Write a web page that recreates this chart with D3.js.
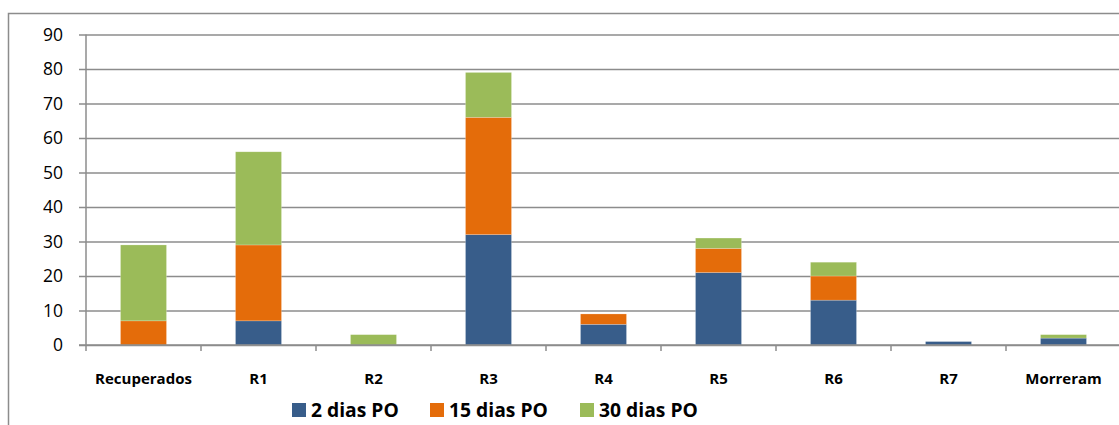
<!DOCTYPE html>
<html>
<head>
<meta charset="utf-8">
<script src="https://cdn.jsdelivr.net/npm/d3@7"></script>
<style>
  html, body { margin: 0; padding: 0; background: #fff; }
  svg { display: block; font-family: "Open Sans", Lato, sans-serif; }
</style>
</head>
<body>
<svg id="chart" width="1119" height="425"></svg>
<script>
// Categories along the x axis
const categories = ["Recuperados", "R1", "R2", "R3", "R4", "R5", "R6", "R7", "Morreram"];

// Series values (stacked in this order, bottom to top)
const dias2  = [0, 7, 0, 32, 6, 21, 13, 1, 2];
const dias15 = [7, 22, 0, 34, 3, 7, 7, 0, 0];
const dias30 = [22, 27, 3, 13, 0, 3, 4, 0, 1];

const seriesNames = ["2 dias PO", "15 dias PO", "30 dias PO"];
const seriesColors = ["#385d8a", "#e46c0a", "#9bbb59"];

// Y-axis ticks
const yTicks = [0, 10, 20, 30, 40, 50, 60, 70, 80, 90];

const svg = d3.select("#chart");
const gridColor = "#8c8c8c";

// Chart frame
svg.append("rect")
  .attr("x", 8.5).attr("y", 13.5)
  .attr("width", 1130).attr("height", 430)
  .attr("fill", "none")
  .attr("stroke", gridColor)
  .attr("stroke-width", 1.5);

const plot = { left: 86, right: 1121, top: 34.5, bottom: 345 };

const x = d3.scaleBand()
  .domain(categories)
  .range([plot.left, plot.right])
  .paddingInner(0.6)
  .paddingOuter(0.3);

const y = d3.scaleLinear()
  .domain([0, 90])
  .range([plot.bottom, plot.top]);

// Horizontal gridlines with left tick marks and labels
const yAxis = d3.axisLeft(y)
  .tickValues(yTicks)
  .tickSize(plot.right - plot.left + 7)
  .tickPadding(16)
  .tickFormat(d3.format("d"));

const gy = svg.append("g")
  .attr("transform", `translate(${plot.right},0)`)
  .call(yAxis);
gy.select(".domain").remove();
gy.selectAll(".tick line")
  .attr("stroke", gridColor)
  .attr("stroke-width", 1.5);
gy.selectAll(".tick text")
  .attr("fill", "#000")
  .attr("font-size", 17.5)
  .attr("font-family", "'Open Sans', sans-serif");

// Stacked bars
const rows = categories.map((c, i) => ({ cat: c, s0: dias2[i], s1: dias15[i], s2: dias30[i] }));
const stack = d3.stack().keys(["s0", "s1", "s2"]);
const layers = stack(rows);

svg.append("g")
  .selectAll("g")
  .data(layers)
  .join("g")
  .attr("fill", (d, i) => seriesColors[i])
  .selectAll("rect")
  .data(d => d.filter(p => p[1] - p[0] > 0))
  .join("rect")
  .attr("x", d => x(d.data.cat))
  .attr("width", x.bandwidth())
  .attr("y", d => y(d[1]))
  .attr("height", d => y(d[0]) - y(d[1]))
  .attr("stroke", "rgba(255,255,255,0.35)")
  .attr("stroke-width", 0.6);

// Y axis line
svg.append("line")
  .attr("x1", plot.left).attr("x2", plot.left)
  .attr("y1", plot.top).attr("y2", plot.bottom)
  .attr("stroke", gridColor).attr("stroke-width", 1.5);

// X axis line with category boundary ticks
svg.append("line")
  .attr("x1", plot.left - 7).attr("x2", plot.right)
  .attr("y1", plot.bottom).attr("y2", plot.bottom)
  .attr("stroke", gridColor).attr("stroke-width", 1.5);

const step = x.step();
const boundaries = d3.range(categories.length + 1).map(i => plot.left + i * step);
svg.append("g")
  .selectAll("line")
  .data(boundaries)
  .join("line")
  .attr("x1", d => d).attr("x2", d => d)
  .attr("y1", plot.bottom).attr("y2", plot.bottom + 6)
  .attr("stroke", gridColor).attr("stroke-width", 1.5);

// Category labels
svg.append("g")
  .selectAll("text")
  .data(categories)
  .join("text")
  .attr("x", d => x(d) + x.bandwidth() / 2)
  .attr("y", 384)
  .attr("text-anchor", "middle")
  .attr("font-size", 15)
  .attr("font-weight", "bold")
  .attr("fill", "#000")
  .text(d => d);

// Legend
const legendX = [292, 430, 580];
const legend = svg.append("g")
  .selectAll("g")
  .data(seriesNames)
  .join("g")
  .attr("transform", (d, i) => `translate(${legendX[i]},0)`);
legend.append("rect")
  .attr("x", 0).attr("y", 403)
  .attr("width", 14).attr("height", 14)
  .attr("fill", (d, i) => seriesColors[i]);
legend.append("text")
  .attr("x", 19).attr("y", 417)
  .attr("font-size", 19.3)
  .attr("font-weight", "bold")
  .attr("fill", "#000")
  .text(d => d);
</script>
</body>
</html>
